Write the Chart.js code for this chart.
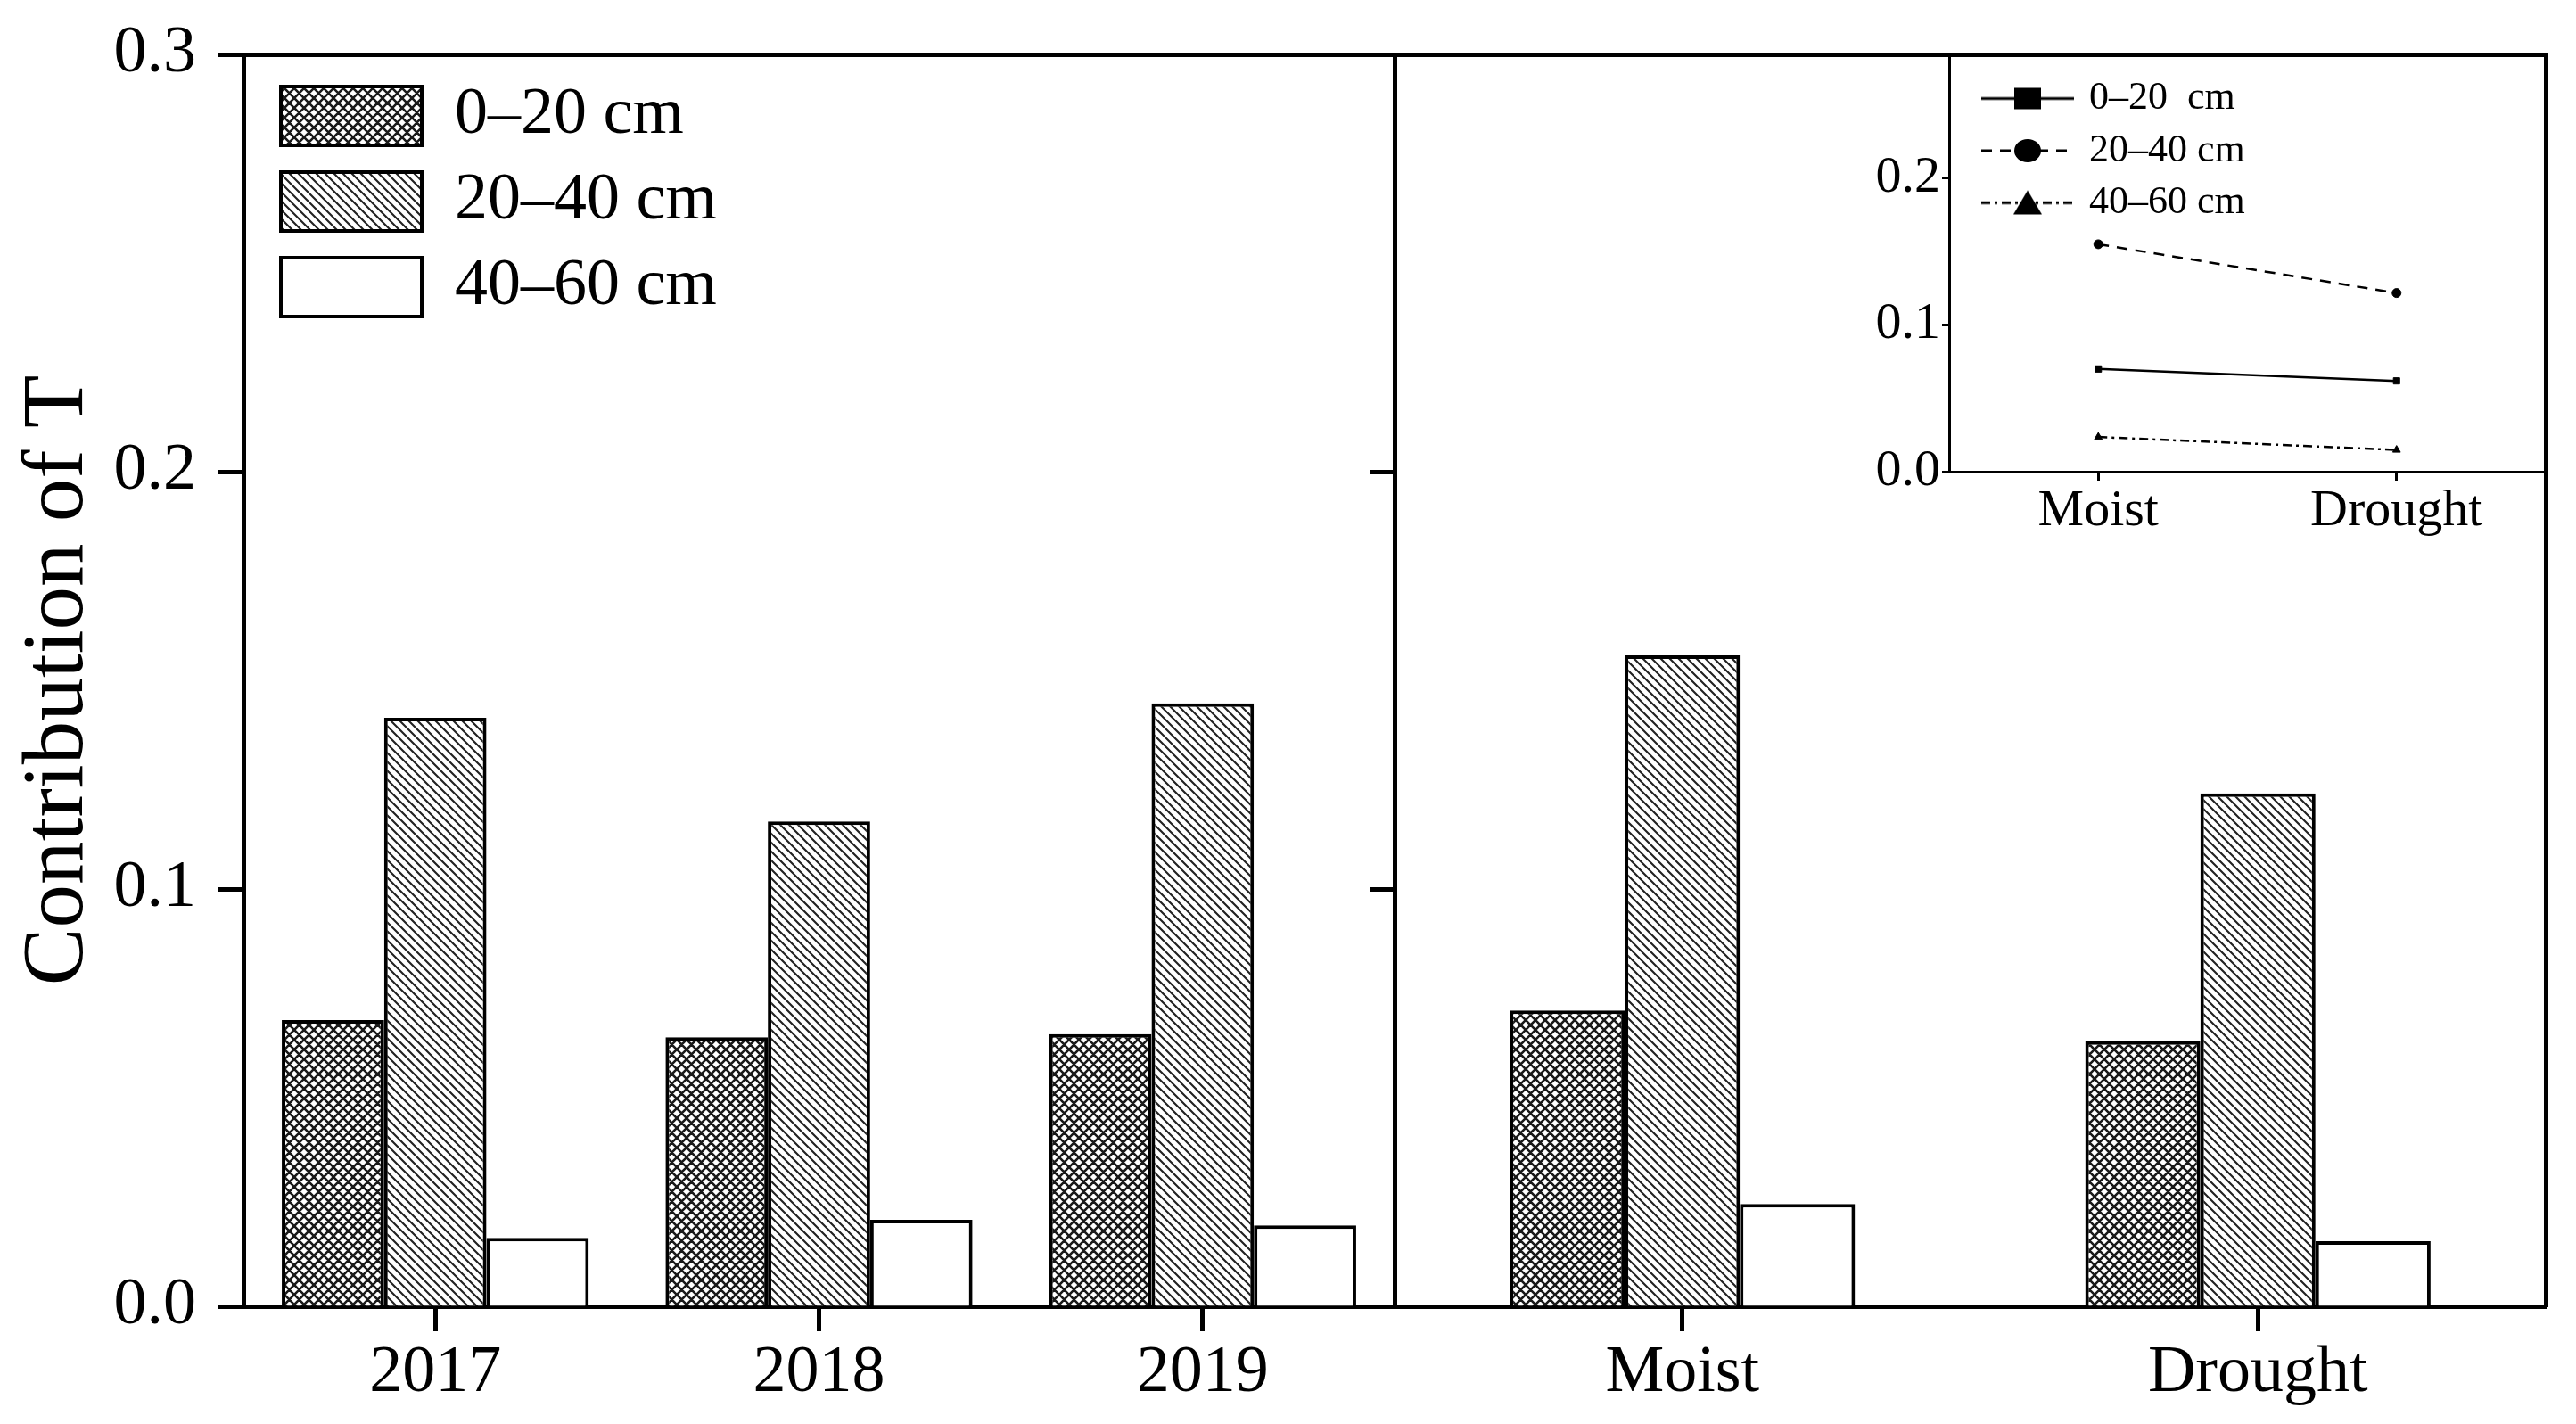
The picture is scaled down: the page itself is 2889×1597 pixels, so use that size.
<!DOCTYPE html>
<html><head><meta charset="utf-8">
<script src="https://cdn.jsdelivr.net/npm/chart.js@4.4.1/dist/chart.umd.min.js"></script>
<style>
html,body{margin:0;padding:0;background:#fff;}
#wrap{position:relative;width:2889px;height:1597px;background:#fff;overflow:hidden;}
#wrap canvas{position:absolute;}
</style></head><body>
<div id="wrap">
<canvas id="cL" width="1600" height="1597" style="left:0px;top:0px"></canvas>
<canvas id="cR" width="1365" height="1597" style="left:1524px;top:0px"></canvas>
<canvas id="cI" width="789" height="620" style="left:2076px;top:20px"></canvas>
</div>
<script>
// ---- data ----
const yearCats = ['2017', '2018', '2019'];
const condCats = ['Moist', 'Drought'];
const depthNames = ['0–20 cm', '20–40 cm', '40–60 cm'];
const year0_20 = [0.0686, 0.0645, 0.0652];
const year20_40 = [0.141, 0.1162, 0.1445];
const year40_60 = [0.0164, 0.0207, 0.0194];
const cond0_20 = [0.0709, 0.0635];
const cond20_40 = [0.156, 0.1229];
const cond40_60 = [0.0245, 0.0156];
const insetNames = ['0–20  cm', '20–40 cm', '40–60 cm'];
const inset0_20 = [0.0699, 0.0618];
const inset20_40 = [0.1548, 0.1216];
const inset40_60 = [0.0236, 0.0148];
const yAxisTitle = 'Contribution of T';

const FONT = "'Liberation Serif', 'Times New Roman', serif";
Chart.defaults.font.family = FONT;
Chart.defaults.color = '#000';

function crossPattern() {
  const s = 11, c = document.createElement('canvas');
  c.width = s; c.height = s;
  const x = c.getContext('2d');
  x.fillStyle = '#fff'; x.fillRect(0, 0, s, s);
  x.strokeStyle = '#1a1a1a'; x.lineWidth = 2.6; x.beginPath();
  for (const k of [-s, 0, s]) {
    x.moveTo(k - 1, -1); x.lineTo(k + s + 1, s + 1);
    x.moveTo(k - 1, s + 1); x.lineTo(k + s + 1, -1);
  }
  x.stroke();
  return x.createPattern(c, 'repeat');
}
function diagPattern() {
  const s = 10, c = document.createElement('canvas');
  c.width = s; c.height = s;
  const x = c.getContext('2d');
  x.fillStyle = '#fff'; x.fillRect(0, 0, s, s);
  x.strokeStyle = '#222'; x.lineWidth = 2.1; x.beginPath();
  for (const k of [-s, 0, s]) { x.moveTo(k - 1, -1); x.lineTo(k + s + 1, s + 1); }
  x.stroke();
  return x.createPattern(c, 'repeat');
}
const fills = [crossPattern(), diagPattern(), '#ffffff'];

function placeLegend(left, top) {
  return { id: 'placeLegend', afterLayout(chart) {
    const lg = chart.legend; if (!lg) return;
    const w = lg.width;
    lg.left = left; lg.top = top; lg.right = left + w; lg.bottom = chart.height;
  } };
}

function barDatasets(arrs) {
  return arrs.map((d, i) => ({
    label: depthNames[i], data: d, backgroundColor: fills[i],
    borderColor: '#000', borderWidth: 4
  }));
}

function frameAxisH(labels) {
  return { type: 'category', position: 'top', labels: labels,
    grid: { display: false, drawOnChartArea: false, drawTicks: false },
    ticks: { display: false }, border: { display: true, color: '#000', width: 5 },
    afterFit(s) { s.height = 0; } };
}

// ---- left panel ----
new Chart(document.getElementById('cL'), {
  type: 'bar',
  data: { labels: yearCats, datasets: barDatasets([year0_20, year20_40, year40_60]) },
  options: {
    responsive: false, animation: false, devicePixelRatio: 1,
    layout: { padding: { left: 0, right: 36, top: 61, bottom: 0 } },
    datasets: { bar: { barPercentage: 1.0, categoryPercentage: 0.8 } },
    plugins: {
      tooltip: { enabled: false },
      legend: { display: true, position: 'chartArea', align: 'start',
        labels: { boxWidth: 158, boxHeight: 66, padding: 22, color: '#000',
          font: { size: 74, family: FONT } } }
    },
    scales: {
      x: { type: 'category', offset: true,
        grid: { offset: false, drawOnChartArea: false, drawTicks: true, tickLength: 28, tickWidth: 5, tickColor: '#000' },
        border: { display: true, color: '#000', width: 5 },
        ticks: { font: { size: 74 }, padding: 3, maxRotation: 0, autoSkip: false, color: '#000' },
        afterFit(s) { s.height = 132; } },
      x2: frameAxisH(yearCats),
      y: { min: 0, max: 0.3, position: 'left',
        grid: { drawOnChartArea: false, drawTicks: true, tickLength: 28, tickWidth: 5, tickColor: '#000' },
        border: { display: true, color: '#000', width: 5 },
        ticks: { stepSize: 0.1, font: { size: 74, lineHeight: 0.9 }, padding: 25, color: '#000',
          callback: v => Number(v).toFixed(1) },
        title: { display: true, text: yAxisTitle, color: '#000',
          font: { size: 97, family: FONT, lineHeight: 1 }, padding: { top: 18, bottom: 0 } },
        afterFit(s) { s.width = 273; } }
    }
  },
  plugins: [placeLegend(293, 71)]
});

// ---- right panel ----
new Chart(document.getElementById('cR'), {
  type: 'bar',
  data: { labels: condCats, datasets: barDatasets([cond0_20, cond20_40, cond40_60]) },
  options: {
    responsive: false, animation: false, devicePixelRatio: 1,
    layout: { padding: { left: 0, right: 34, top: 61, bottom: 0 } },
    datasets: { bar: { barPercentage: 1.0, categoryPercentage: 0.6 } },
    plugins: { tooltip: { enabled: false }, legend: { display: false } },
    scales: {
      x: { type: 'category', offset: true,
        grid: { offset: false, drawOnChartArea: false, drawTicks: true, tickLength: 28, tickWidth: 5, tickColor: '#000' },
        border: { display: true, color: '#000', width: 5 },
        ticks: { font: { size: 74 }, padding: 3, maxRotation: 0, autoSkip: false, color: '#000' },
        afterFit(s) { s.height = 132; } },
      x2: frameAxisH(condCats),
      y: { min: 0, max: 0.3, position: 'left',
        grid: { drawOnChartArea: false, drawTicks: true, tickLength: 28, tickWidth: 5, tickColor: '#000' },
        border: { display: true, color: '#000', width: 5 },
        ticks: { stepSize: 0.1, display: false },
        afterFit(s) { s.width = 40; } },
      y2: { type: 'linear', position: 'right', min: 0, max: 0.3,
        grid: { display: false, drawOnChartArea: false, drawTicks: false },
        border: { display: true, color: '#000', width: 5 },
        ticks: { display: false },
        afterFit(s) { s.width = 0; } }
    }
  }
});

// ---- inset ----
function makeIcon(dash, marker) {
  const w = 104, h = 30, c = document.createElement('canvas');
  c.width = w; c.height = h;
  const x = c.getContext('2d');
  x.strokeStyle = '#000'; x.fillStyle = '#000'; x.lineWidth = 3;
  x.setLineDash(dash);
  x.beginPath(); x.moveTo(0, h / 2); x.lineTo(w, h / 2); x.stroke();
  x.setLineDash([]);
  const cx = w / 2, cy = h / 2;
  x.beginPath();
  if (marker === 'rect') { x.rect(cx - 15, cy - 12, 30, 24); }
  else if (marker === 'circle') { x.ellipse(cx, cy, 15, 13, 0, 0, Math.PI * 2); }
  else { x.moveTo(cx, cy - 14); x.lineTo(cx + 16, cy + 13); x.lineTo(cx - 16, cy + 13); x.closePath(); }
  x.fill();
  return c;
}
const lineDashes = [[], [12, 9], [10, 5, 3, 5]];
const markers = ['rect', 'circle', 'triangle'];
const icons = lineDashes.map((d, i) => makeIcon(d, markers[i]));

new Chart(document.getElementById('cI'), {
  type: 'line',
  data: { labels: condCats, datasets: [inset0_20, inset20_40, inset40_60].map((d, i) => ({
    label: insetNames[i], data: d, borderColor: '#000', borderWidth: 2.5, borderDash: lineDashes[i],
    pointStyle: markers[i], pointRadius: 5, pointBackgroundColor: '#000', pointBorderColor: '#000',
    pointBorderWidth: 1, fill: false, tension: 0 })) },
  options: {
    responsive: false, animation: false, devicePixelRatio: 1,
    layout: { padding: { left: 0, right: 10, top: 41, bottom: 0 } },
    plugins: {
      tooltip: { enabled: false },
      legend: { display: true, position: 'chartArea', align: 'start',
        labels: { usePointStyle: true, pointStyleWidth: 94, padding: 14.5, color: '#000',
          font: { size: 44, family: FONT },
          generateLabels: chart => chart.data.datasets.map((ds, i) => ({
            text: ds.label, pointStyle: icons[i], fillStyle: '#000', strokeStyle: '#000',
            lineWidth: 0, hidden: false, datasetIndex: i, fontColor: '#000' })) } }
    },
    scales: {
      x: { type: 'category', offset: true,
        grid: { offset: false, drawOnChartArea: false, drawTicks: true, tickLength: 10, tickWidth: 3, tickColor: '#000' },
        border: { display: true, color: '#000', width: 3 },
        ticks: { font: { size: 58 }, padding: 0, maxRotation: 0, autoSkip: false, color: '#000' },
        afterFit(s) { s.height = 111; } },
      y: { min: 0, max: 0.284, position: 'left',
        grid: { drawOnChartArea: false, drawTicks: true, tickLength: 8, tickWidth: 3, tickColor: '#000' },
        border: { display: true, color: '#000', width: 3 },
        ticks: { stepSize: 0.1, includeBounds: false, font: { size: 58 }, padding: 2, color: '#000',
          callback: v => Number(v).toFixed(1) },
        afterFit(s) { s.width = 110; } }
    }
  },
  plugins: [placeLegend(136.5, 54)]
});
</script>
</body></html>
